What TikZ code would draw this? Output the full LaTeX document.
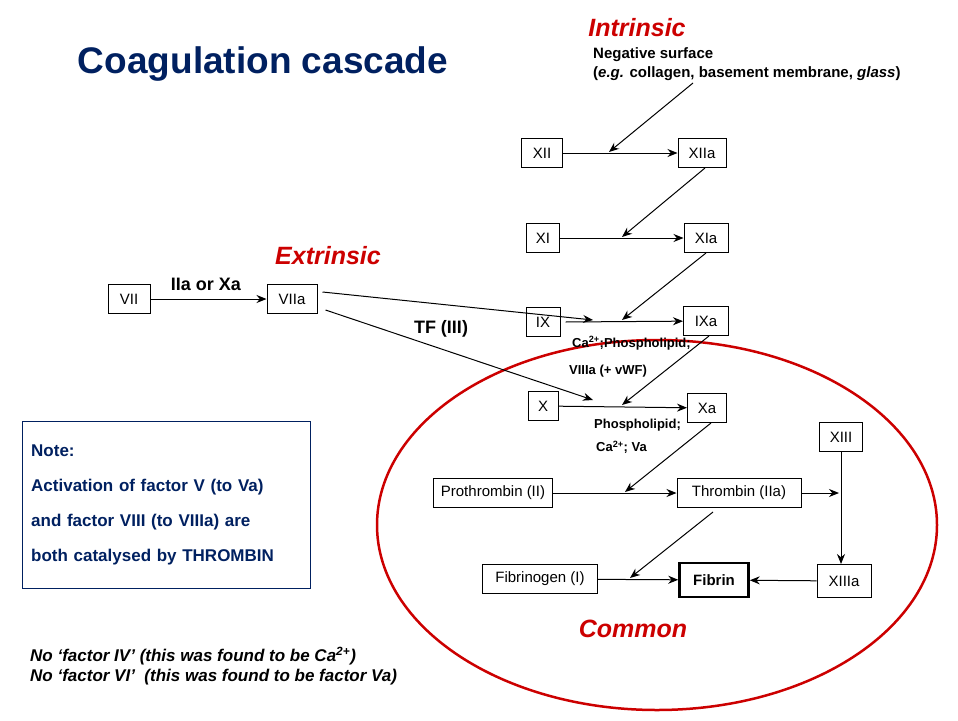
\documentclass[tikz,border=0pt]{standalone}
\usepackage{fontspec}
\setmainfont{Liberation Sans}
\usetikzlibrary{arrows.meta}
\definecolor{myred}{RGB}{204,0,0}
\definecolor{mynavy}{RGB}{0,32,96}
\begin{document}
\begin{tikzpicture}[x=1pt,y=-1pt,inner sep=0pt]
\tikzstyle{factor}=[rectangle, draw=black, minimum height=29pt, inner xsep=4pt, line width=1pt, font=\fontsize{15}{18}\selectfont]
\tikzstyle{connect}=[-{Stealth[length=10pt,width=8pt]}, line width=1pt]
\tikzstyle{head}=[font=\bfseries\itshape\fontsize{25}{30}\selectfont, text=myred]
\tikzstyle{cond}=[font=\bfseries\fontsize{13}{16}\selectfont, align=left, anchor=west]
\useasboundingbox (0,0) rectangle (958,720);
\node[font=\bfseries\fontsize{37}{44}\selectfont, text=mynavy] (title) at (263,64) {Coagulation cascade};
\node[head] (intr) at (637,28) {Intrinsic};
\node[head] (extr) at (328,256) {Extrinsic};
\node[head] (comm) at (633,629) {Common};
\draw[myred, line width=2.5pt] (657,525) ellipse (280 and 185);
\node[cond, font=\bfseries\fontsize{15}{19}\selectfont] (surf) at (593,64) {Negative surface\\(\textit{e.g.} collagen, basement membrane, \textit{glass})};
\node[factor, minimum width=41pt] (xii) at (542,153) {XII};
\node[factor, minimum width=48pt] (xiia) at (702,153) {XIIa};
\node[factor, minimum width=33pt] (xi) at (543,238) {XI};
\node[factor, minimum width=44pt] (xia) at (706,238) {XIa};
\node[factor, minimum width=34pt] (ix) at (543,322) {IX};
\node[factor, minimum width=45pt] (ixa) at (706,321) {IXa};
\node[factor, minimum width=30pt] (x) at (543,406) {X};
\node[factor, minimum width=39pt] (xa) at (707,408) {Xa};
\node[factor, minimum width=42pt] (vii) at (129,299) {VII};
\node[factor, minimum width=50pt] (viia) at (292,299) {VIIa};
\node[factor, minimum width=43pt] (xiii) at (841,437) {XIII};
\node[factor, minimum width=54pt, minimum height=33pt] (xiiia) at (844,581) {XIIIa};
\node[factor, minimum width=119pt] (pro) at (493,493) {Prothrombin (II)};
\node[factor, minimum width=124pt] (thr) at (739,493) {Thrombin (IIa)};
\node[factor, minimum width=115pt] (fbg) at (540,579) {Fibrinogen (I)};
\node[factor, line width=2.5pt, minimum width=69pt, minimum height=34pt, font=\bfseries\fontsize{15}{18}\selectfont] (fib) at (714,580) {Fibrin};
\node[cond] (ca1) at (572,343) {Ca\textsuperscript{2+};Phospholipid;};
\node[cond] (viiia) at (569,371) {VIIIa (+ vWF)};
\node[cond] (pl) at (594,425) {Phospholipid;};
\node[cond] (ca2) at (596,447) {Ca\textsuperscript{2+}; Va};
\node[font=\bfseries\fontsize{18}{22}\selectfont] (tf) at (441,329) {TF (III)};
\node[font=\bfseries\fontsize{18}{22}\selectfont] (iiaxa) at (206,284) {IIa or Xa};
\node[draw=mynavy, line width=1pt, minimum width=288pt, minimum height=167pt] (note) at (166,505) {};
\node[cond, font=\bfseries\fontsize{17}{20}\selectfont, text=mynavy, text width=280pt] at (31,505) {Note:\\[15pt]Activation of factor V (to Va)\\[15pt]and factor VIII (to VIIIa) are\\[15pt]both catalysed by THROMBIN};
\node[cond, font=\bfseries\itshape\fontsize{17}{20}\selectfont] (no) at (30,666) {No `factor IV' (this was found to be Ca\textsuperscript{2+})\\No `factor VI'~ (this was found to be factor Va)};
% junction points
\coordinate (j1) at (609,152);
\coordinate (j2) at (622,237);
\coordinate (j3) at (622,320);
\coordinate (j4) at (622,405);
\coordinate (j5) at (625,492);
\coordinate (j6) at (630,578);
\coordinate (j7) at (839,493);
\coordinate (s1) at (693,83);
\coordinate (e1) at (593,320);
\coordinate (e2) at (593,400);
\draw[connect] (vii) -- (viia);
\draw[connect] (xii) -- (xiia);
\draw[connect] (xi) -- (xia);
\draw[connect] (ix.east) ++(5,0) -- (ixa);
\draw[connect] (x) -- (xa);
\draw[connect] (pro) -- (thr);
\draw[connect] (fbg) -- (fib);
\draw[connect] (xiiia) -- (fib);
\draw[connect] (xiii) -- (xiii |- xiiia.north);
\draw[connect] (thr) -- (j7);
\draw[connect] (s1) -- (j1);
\draw[connect] (xiia.south) ++(3,0) -- (j2);
\draw[connect] (xia.south) -- (j3);
\draw[connect] (ixa.south) ++(3,0) -- (j4);
\draw[connect] (xa.south) ++(4,0) -- (j5);
\draw[connect] (thr.south) ++(-26,4) -- (j6);
\draw[connect] (viia.east) ++(5,-7) -- (e1);
\draw[connect] (viia.east) ++(8,11) -- (e2);
\end{tikzpicture}
\end{document}
